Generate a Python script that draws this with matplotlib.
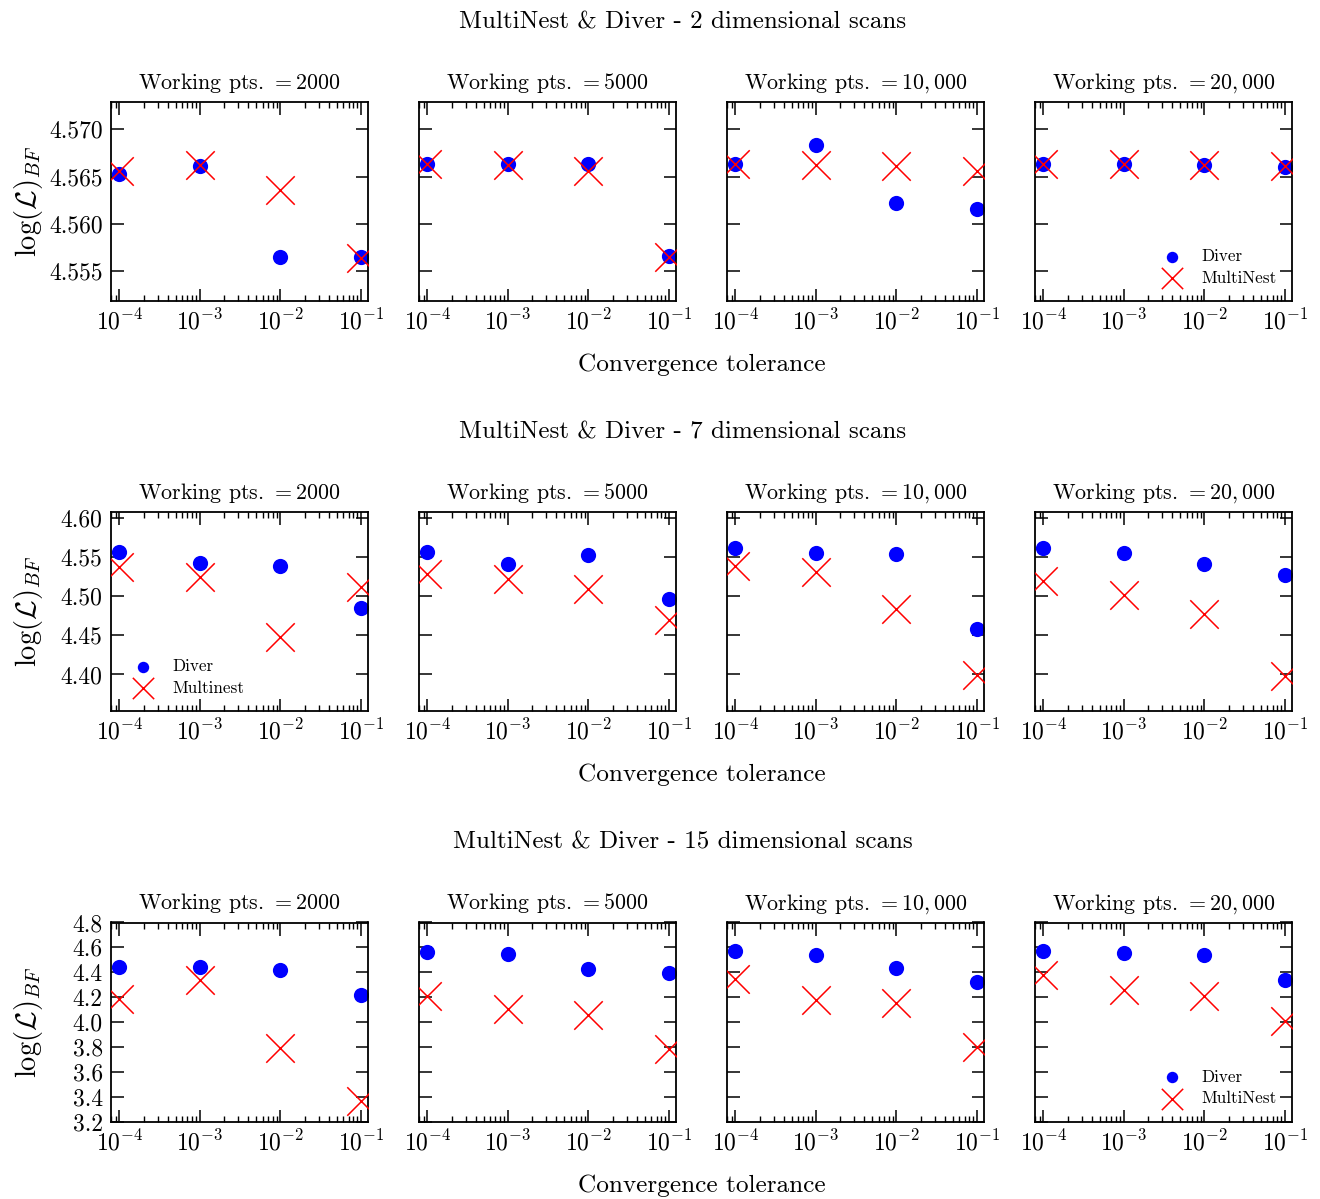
import matplotlib
matplotlib.use("Agg")
import matplotlib.pyplot as plt
from matplotlib.ticker import FixedLocator, FormatStrFormatter, LogLocator, NullFormatter

plt.rcParams.update({
    "font.family": "cmr10",
    "mathtext.fontset": "cm",
    "axes.formatter.use_mathtext": True,
    "axes.unicode_minus": False,
    "axes.linewidth": 1.3,
    "xtick.direction": "in",
    "ytick.direction": "in",
    "xtick.top": True,
    "ytick.right": True,
})

# Convergence tolerances and number of live points per panel
tolerance = [1e-4, 1e-3, 1e-2, 1e-1]
panel_titles = ["Working pts. $= 2000$", "Working pts. $= 5000$",
                "Working pts. $= 10,000$", "Working pts. $= 20,000$"]
row_titles = ["MultiNest & Diver - 2 dimensional scans",
              "MultiNest & Diver - 7 dimensional scans",
              "MultiNest & Diver - 15 dimensional scans"]

# log(L)_BF, 2 dimensional scans
diver_2d = [
    [4.5653, 4.5661, 4.5565, 4.5565],
    [4.5663, 4.5663, 4.5663, 4.5566],
    [4.5663, 4.5683, 4.5622, 4.5616],
    [4.5663, 4.5663, 4.5662, 4.5660],
]
multinest_2d = [
    [4.5656, 4.5662, 4.5636, 4.5564],
    [4.5663, 4.5662, 4.5656, 4.5565],
    [4.5663, 4.5662, 4.5661, 4.5656],
    [4.5663, 4.5663, 4.5662, 4.5661],
]

# log(L)_BF, 7 dimensional scans
diver_7d = [
    [4.5568, 4.5431, 4.5388, 4.4854],
    [4.5564, 4.5418, 4.5529, 4.4962],
    [4.5615, 4.5559, 4.5542, 4.4585],
    [4.5615, 4.5559, 4.5410, 4.5269],
]
multinest_7d = [
    [4.5370, 4.5251, 4.4482, 4.5123],
    [4.5282, 4.5226, 4.5090, 4.4700],
    [4.5393, 4.5312, 4.4833, 4.3992],
    [4.5196, 4.5017, 4.4769, 4.3983],
]

# log(L)_BF, 15 dimensional scans
diver_15d = [
    [4.440, 4.440, 4.4215, 4.2175],
    [4.564, 4.548, 4.430, 4.397],
    [4.569, 4.537, 4.435, 4.319],
    [4.569, 4.558, 4.540, 4.338],
]
multinest_15d = [
    [4.188, 4.338, 3.788, 3.366],
    [4.209, 4.102, 4.056, 3.780],
    [4.344, 4.177, 4.150, 3.796],
    [4.379, 4.258, 4.212, 4.008],
]

rows = [
    dict(diver=diver_2d, multinest=multinest_2d, ylim=(4.5518, 4.5729),
         yticks=[4.555, 4.560, 4.565, 4.570], fmt="%.3f",
         legend_panel=3, legend_loc="lower right", mn_label="MultiNest"),
    dict(diver=diver_7d, multinest=multinest_7d, ylim=(4.3533, 4.6077),
         yticks=[4.40, 4.45, 4.50, 4.55, 4.60], fmt="%.2f",
         legend_panel=0, legend_loc="lower left", mn_label="Multinest"),
    dict(diver=diver_15d, multinest=multinest_15d, ylim=(3.2, 4.8),
         yticks=[3.2, 3.4, 3.6, 3.8, 4.0, 4.2, 4.4, 4.6, 4.8], fmt="%.1f",
         legend_panel=3, legend_loc="lower right", mn_label="MultiNest"),
]

W, H = 1320, 1199
fig = plt.figure(figsize=(W / 100, H / 100), dpi=100)

ax_left = [111, 419, 727, 1035]
ax_w = 257
row_top = [102, 512, 922.5]
ax_h = 199

for r, row in enumerate(rows):
    top = row_top[r]
    for p in range(4):
        ax = fig.add_axes([ax_left[p] / W, 1 - (top + ax_h) / H, ax_w / W, ax_h / H])
        ax.set_xscale("log")
        ax.set_xlim(7.9e-5, 0.122)
        ax.set_ylim(*row["ylim"])
        ax.scatter(tolerance, row["diver"][p], s=120, color="blue",
                   marker="o", linewidths=0, label="Diver", zorder=2)
        ax.scatter(tolerance, row["multinest"][p], s=420, color="red",
                   marker="x", linewidths=1.1, label=row["mn_label"], zorder=3)
        ax.xaxis.set_major_locator(FixedLocator(tolerance))
        ax.xaxis.set_minor_locator(LogLocator(base=10, subs=range(2, 10), numticks=20))
        ax.xaxis.set_minor_formatter(NullFormatter())
        ax.yaxis.set_major_locator(FixedLocator(row["yticks"]))
        ax.yaxis.set_major_formatter(FormatStrFormatter(row["fmt"]))
        ax.tick_params(which="major", length=9, width=1.1, labelsize=17, pad=6)
        ax.tick_params(which="minor", length=4.5, width=1.0)
        ax.tick_params(axis="y", which="minor", left=False, right=False)
        if p > 0:
            ax.tick_params(axis="y", labelleft=False)
        else:
            ax.set_ylabel(r"$\log(\mathcal{L})_{BF}$", fontsize=20.5)
            ax.yaxis.set_label_coords(-0.255, 0.5)
        ax.set_title(panel_titles[p], fontsize=15.8, pad=9.5)
        if p == row["legend_panel"]:
            ax.legend(loc=row["legend_loc"], frameon=False, fontsize=12.3,
                      markerscale=0.75, handletextpad=0.7, labelspacing=0.35,
                      borderaxespad=0.5)
    fig.text(683 / W, 1 - (top - 80) / H, row_titles[r], ha="center",
             va="center", fontsize=18)
    fig.text(702 / W, 1 - (top + 263) / H, "Convergence tolerance",
             ha="center", va="center", fontsize=18.2)

fig.savefig("out.png", dpi=100)
